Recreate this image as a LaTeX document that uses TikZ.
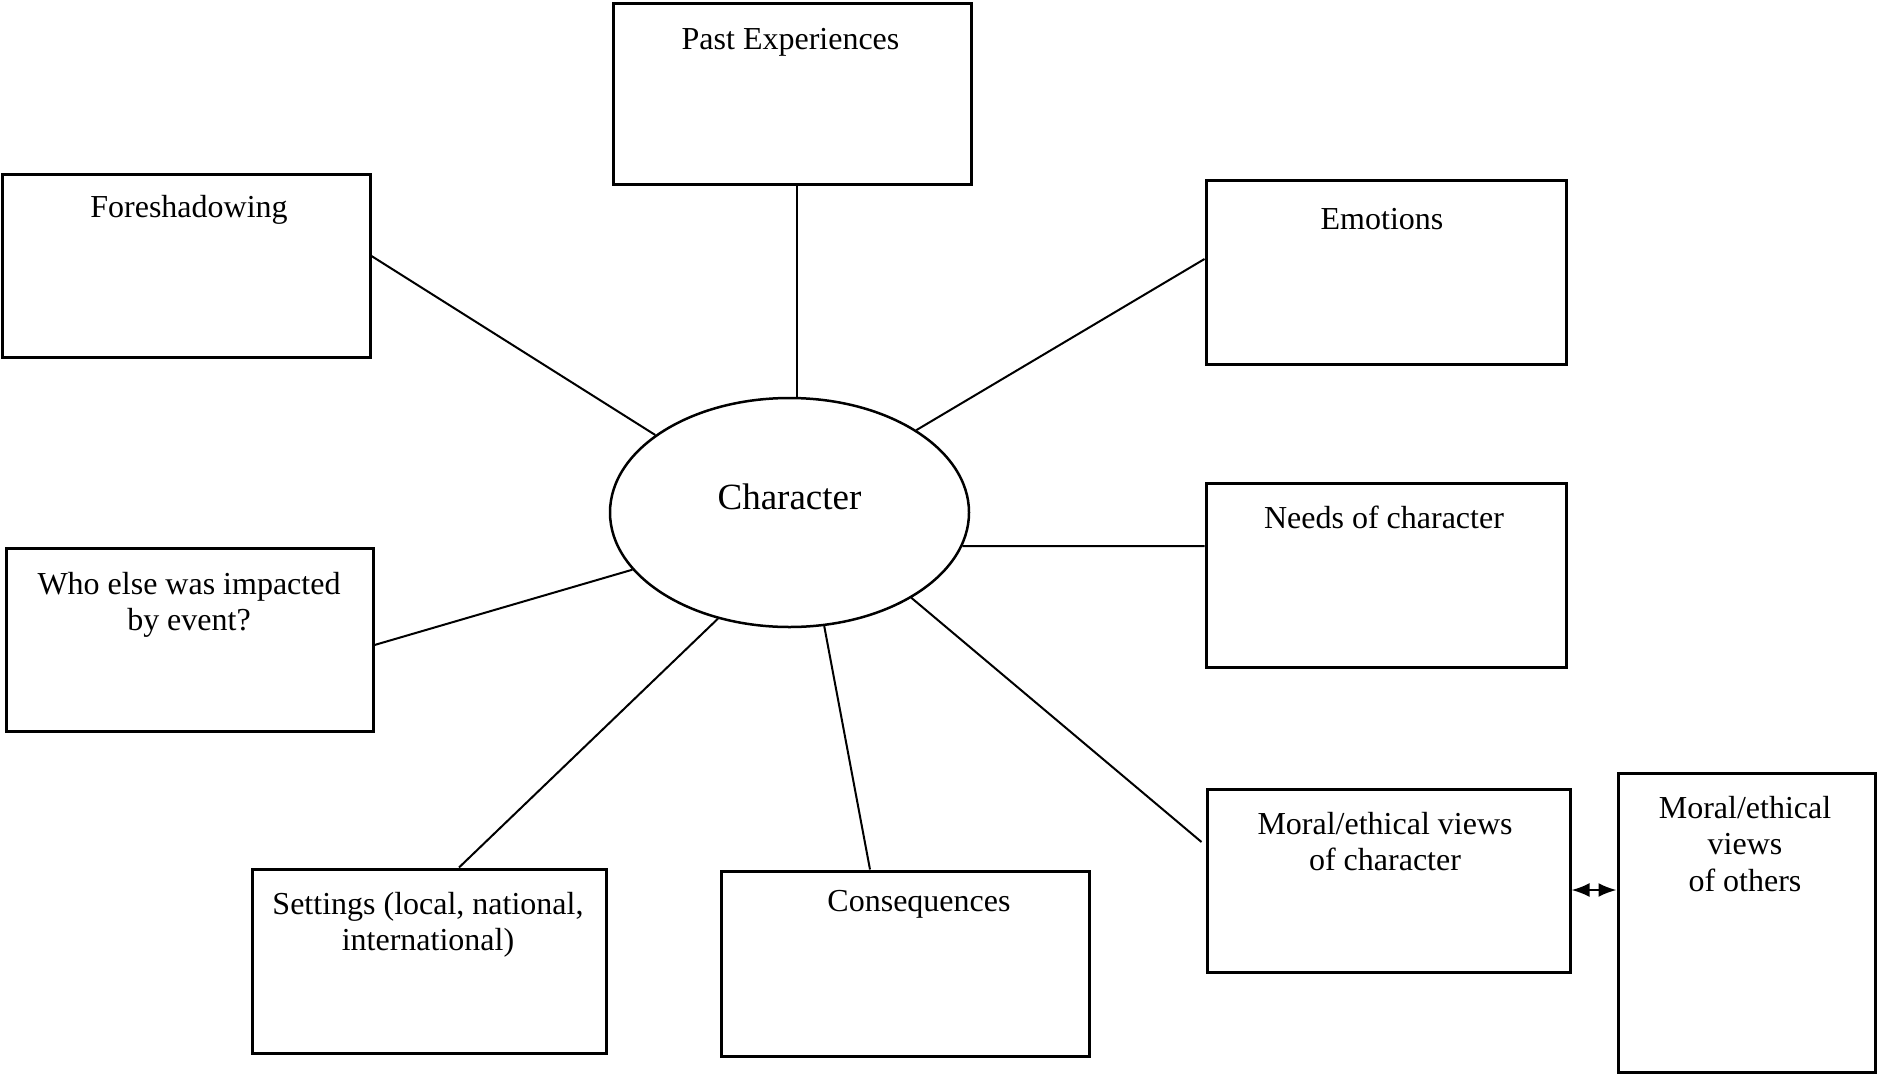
\documentclass[tikz,border=0pt]{standalone}
\usepackage{fontspec}
\setmainfont{Liberation Serif}
\usetikzlibrary{shapes.geometric,arrows.meta}
\begin{document}
\begin{tikzpicture}[x=1pt,y=-1pt,
  box/.style={draw, rectangle, line width=3pt, inner sep=0pt},
  hub/.style={draw, ellipse, line width=2.5pt, inner sep=0pt,
    minimum width=359pt, minimum height=229pt},
  boxtext/.style={font=\fontsize{32}{36.5}\selectfont, align=center,
    anchor=base, inner sep=0pt},
  spoke/.style={line width=2pt},
  link/.style={line width=2.2pt, {Latex[length=18pt,width=14pt]}-{Latex[length=18pt,width=14pt]}}]

% page
\fill[white] (0,0) rectangle (1879,1074);
\useasboundingbox (0,0) rectangle (1879,1074);

% central ellipse
\node[hub] (char) at (789.5,512.5) {};
\node[boxtext, font=\fontsize{37}{42}\selectfont] (chartext) at (789.5,509.3) {Character};

% surrounding boxes
\node[box, minimum width=358pt, minimum height=181pt] (past)   at (792,93.5)   {};
\node[box, minimum width=368pt, minimum height=183pt] (fore)   at (186,265.5)  {};
\node[box, minimum width=360pt, minimum height=184pt] (emo)    at (1386,272)   {};
\node[box, minimum width=360pt, minimum height=184pt] (needs)  at (1386,575)   {};
\node[box, minimum width=367pt, minimum height=183pt] (who)    at (189.5,639.5){};
\node[box, minimum width=354pt, minimum height=184pt] (set)    at (429,961)    {};
\node[box, minimum width=368pt, minimum height=185pt] (cons)   at (905,963.5)  {};
\node[box, minimum width=363pt, minimum height=183pt] (moral)  at (1388.5,880.5){};
\node[box, minimum width=257pt, minimum height=299pt] (others) at (1746.5,922.5){};

% box titles (placed on the last baseline)
\node[boxtext] (pastt)   at (790.5,49)  {Past Experiences};
\node[boxtext] (foret)   at (189,217)   {Foreshadowing};
\node[boxtext] (emot)    at (1382,229.3){Emotions};
\node[boxtext] (needst)  at (1384,528.3){Needs of character};
\node[boxtext] (whot)    at (189,630.8) {Who else was impacted\\by event?};
\node[boxtext] (sett)    at (428,950.8) {Settings (local, national,\\international)};
\node[boxtext] (const)   at (919,911.7) {Consequences};
\node[boxtext] (moralt)  at (1385,870.5) {Moral/ethical views\\of character};
\node[boxtext] (otherst) at (1745,891)  {Moral/ethical\\views\\of others};

% spokes from the ellipse to the boxes
\draw[spoke] ([xshift=4.7pt]past.south) -- ([xshift=7.2pt]char.north);
\draw[spoke] ([yshift=9.5pt]fore.east) -- (char.150.6);
\draw[spoke] ([yshift=13pt]emo.west) -- (char.33.5);
\draw[spoke] ([yshift=29pt]needs.west) -- (char.349.1);
\draw[spoke] ([yshift=-5.5pt]who.east) -- (char.200.4);
\draw[spoke] ([xshift=30pt]set.north) -- (char.236.4);
\draw[spoke] ([xshift=-35pt]cons.north) -- (char.287.8);
\draw[spoke] ([yshift=38.5pt,xshift=-4pt]moral.west) -- (char.325.4);

% two-way link between the moral/ethical boxes
\draw[link] ([yshift=-9.5pt]moral.east) -- ([yshift=-9.5pt]moral.east -| others.west);
\end{tikzpicture}
\end{document}
